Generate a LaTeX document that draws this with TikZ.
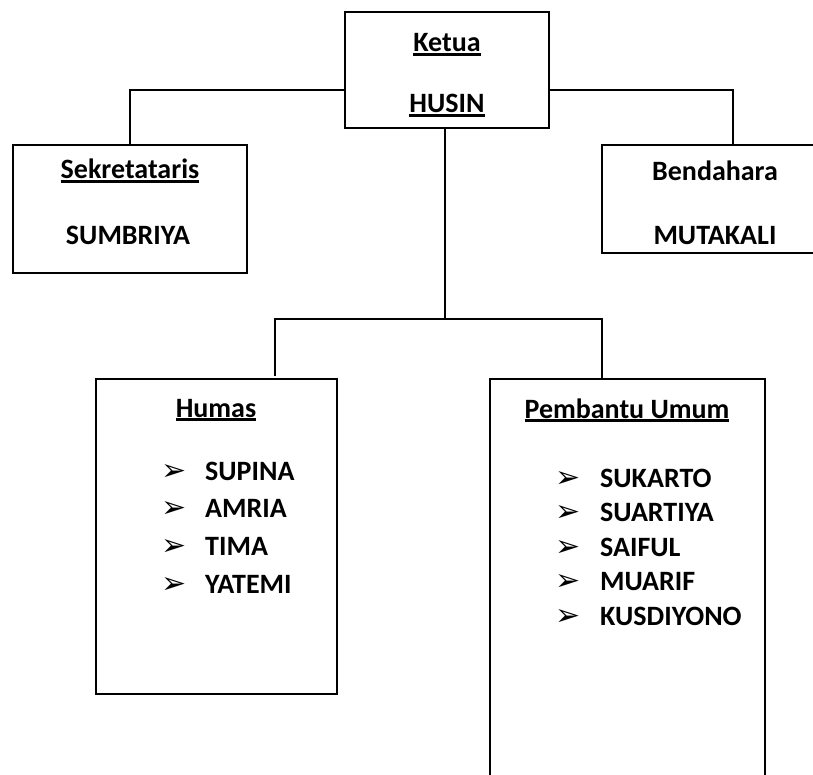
\documentclass[tikz,border=0pt]{standalone}
\usepackage{fontspec}
\setmainfont{Carlito}
\newfontfamily\symfont{DejaVu Sans}
\newcommand\ulx[1]{\setbox0\hbox{#1}\rlap{\vrule height -1.2pt depth 3.8pt width \wd0}\box0}
\begin{document}
\begin{tikzpicture}[x=1pt,y=-1pt,
  box/.style={draw,line width=1.6pt,inner sep=0pt},
  conn/.style={line width=1.3pt},
  txt/.style={anchor=base,inner sep=0pt,font=\fontsize{28}{32}\selectfont\bfseries},
  item/.style={anchor=base west,inner sep=0pt,font=\fontsize{28}{32}\selectfont\bfseries},
  bul/.style={anchor=base west,inner sep=0pt,font=\fontsize{30}{34}\selectfont\symfont}]
\useasboundingbox (0,0) rectangle (813,775);
\clip (0,0) rectangle (813,775);
\fill[white] (0,0) rectangle (813,775);
% boxes
\node[box,minimum width=204pt,minimum height=116pt] (ketua) at (447,70) {};
\node[box,minimum width=234pt,minimum height=128pt] (sekr) at (130,209) {};
\node[box,minimum width=226pt,minimum height=108pt] (bend) at (715,199) {};
\node[box,minimum width=241pt,minimum height=315pt] (humas) at (216.5,536.5) {};
\node[box,minimum width=275pt,minimum height=421pt] (pemb) at (627.5,589.5) {};
% connectors
\coordinate (jc) at (445,319);
\coordinate (jl) at (275,319);
\coordinate (jr) at (602,319);
\coordinate (hl) at (275,376);
\draw[conn] (ketua.west |- 0,90) -| (sekr.north);
\draw[conn] (ketua.east |- 0,90) -| (733,145);
\draw[conn] (ketua.south -| jc) -- (jc);
\draw[conn] (hl) -- (jl) -- (jr) -- (pemb.north -| jr);
% texts
\node[txt] (t1) at (447,52) {\ulx{Ketua}};
\node[txt] (t2) at (447,113) {\ulx{HUSIN}};
\node[txt] (t3) at (130,179) {\ulx{Sekretataris}};
\node[txt] (t4) at (128,245) {SUMBRIYA};
\node[txt] (t5) at (715,181) {Bendahara};
\node[txt] (t6) at (715,245) {MUTAKALI};
\node[txt] (t7) at (216,417) {\ulx{Humas}};
\node[txt] (t8) at (627,418) {\ulx{Pembantu Umum}};
% Humas list
\foreach \n/\y/\name in {h1/480/SUPINA,h2/517/AMRIA,h3/555/TIMA,h4/593/YATEMI}{
  \node[bul] (b\n) at (161,\y) {➢};
  \node[item] (i\n) at (205,\y) {\name};
}
% Pembantu list
\foreach \n/\y/\name in {p1/487/SUKARTO,p2/521/SUARTIYA,p3/556/SAIFUL,p4/590/MUARIF,p5/625/KUSDIYONO}{
  \node[bul] (b\n) at (555,\y) {➢};
  \node[item] (i\n) at (600,\y) {\name};
}
\end{tikzpicture}
\end{document}
